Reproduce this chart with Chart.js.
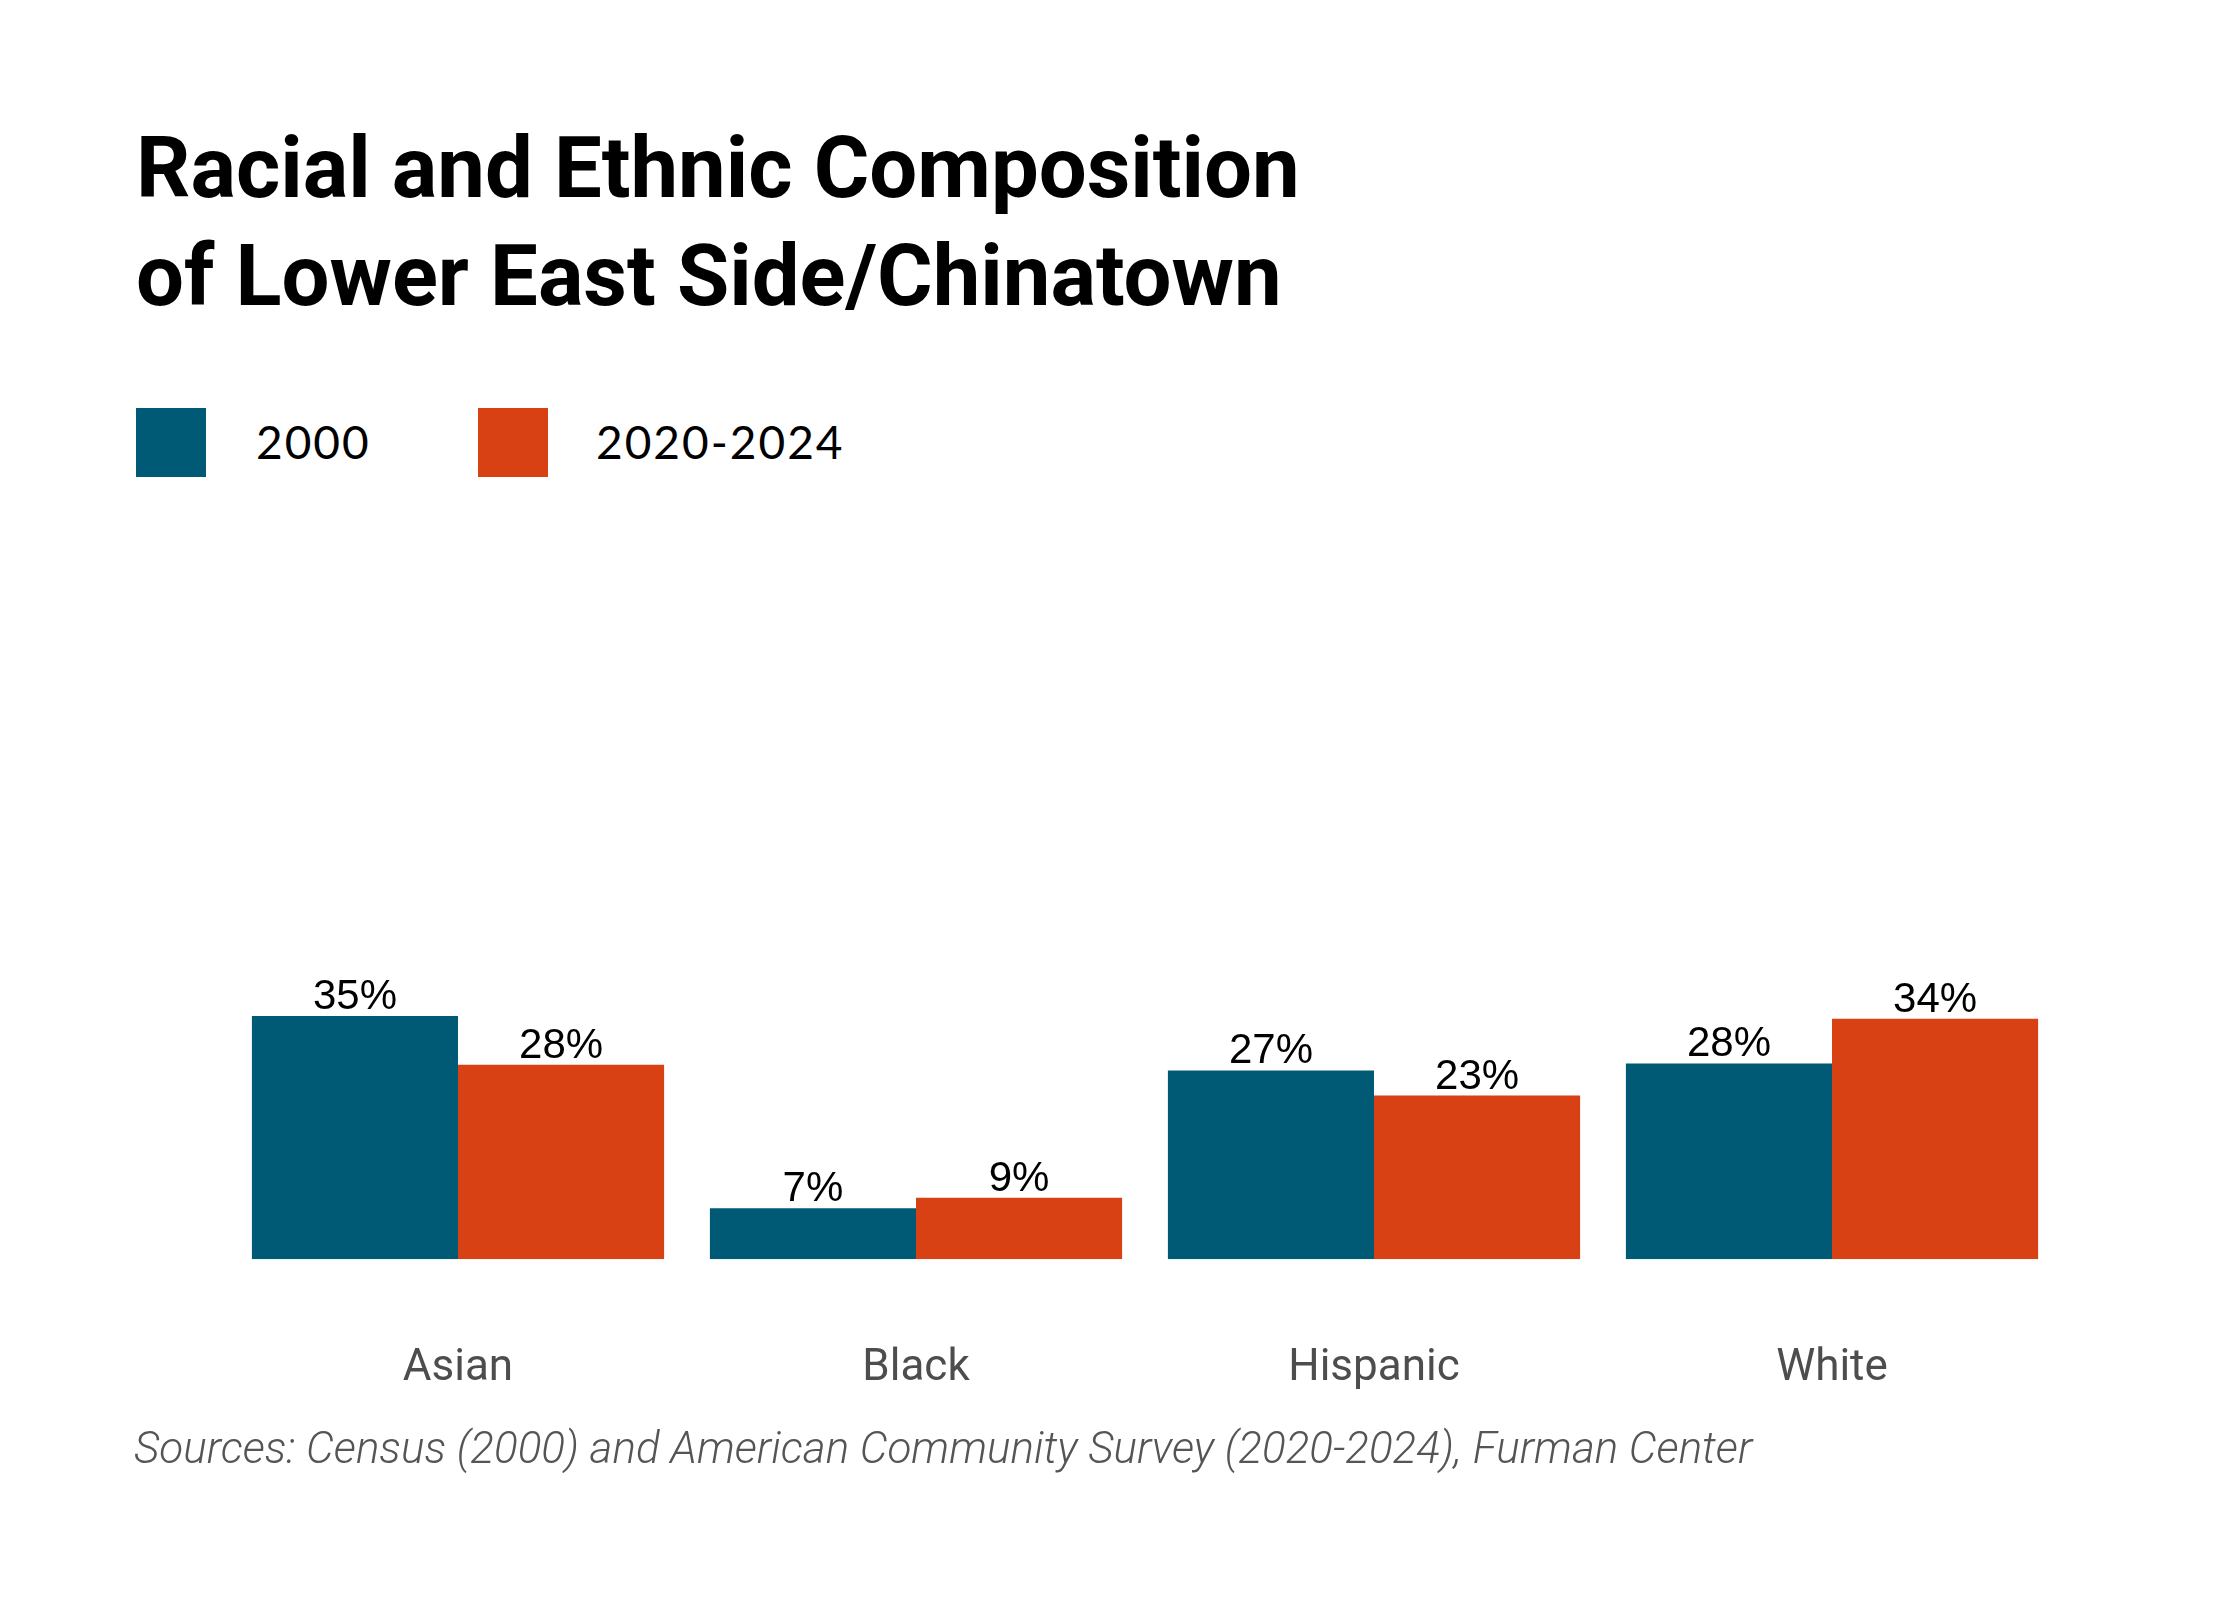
<!DOCTYPE html>
<html>
<head>
<meta charset="utf-8">
<script src="https://cdn.jsdelivr.net/npm/chart.js@4.4.0/dist/chart.umd.min.js"></script>
<style>
  body { margin: 0; background: #fff; }
  #page { position: relative; width: 2240px; height: 1600px; background: #fff; overflow: hidden; }
  #title {
    position: absolute; left: 136px; top: 114px; margin: 0;
    font-family: Roboto, sans-serif; font-weight: 700; font-size: 85px; line-height: 108px;
    color: #000;
  }
  .legend-box { position: absolute; top: 408px; width: 70px; height: 69px; }
  .legend-text {
    position: absolute; top: 414px; font-family: Lato, sans-serif; font-size: 46px;
    letter-spacing: 2px; color: #000; line-height: 56px;
  }
  #sources {
    position: absolute; left: 134px; top: 1426px; font-family: Roboto, sans-serif;
    font-style: italic; font-weight: 300; font-size: 44px; line-height: 44px; color: #555;
  }
  #chartWrap { position: absolute; left: 0; top: 540px; width: 2240px; height: 938px; }
</style>
</head>
<body>
<div id="page">
  <h1 id="title">Racial and Ethnic Composition<br>of Lower East Side/Chinatown</h1>
  <div class="legend-box" id="box0" style="left:136px"></div>
  <div class="legend-text" id="lab0" style="left:256px"></div>
  <div class="legend-box" id="box1" style="left:478px"></div>
  <div class="legend-text" id="lab1" style="left:596px"></div>
  <div id="chartWrap"><canvas id="chart"></canvas></div>
  <div id="sources">Sources: Census (2000) and American Community Survey (2020-2024), Furman Center</div>
</div>
<script>
const categories = ["Asian", "Black", "Hispanic", "White"];
const seriesNames = ["2000", "2020-2024"];
const values2000 = [34.8, 7.3, 27.0, 28.0];
const values2020 = [27.8, 8.8, 23.4, 34.4];
const colors = ["#005A76", "#D84114"];

// legend in html
seriesNames.forEach((name, i) => {
    document.getElementById("box" + i).style.background = colors[i];
    document.getElementById("lab" + i).textContent = name;
});

const valueLabels = {
    id: "valueLabels",
    afterDatasetsDraw(chart) {
        const ctx = chart.ctx;
        ctx.save();
        ctx.font = "42px 'Liberation Sans', Arial, sans-serif";
        ctx.fillStyle = "#000";
        ctx.textAlign = "center";
        ctx.textBaseline = "alphabetic";
        chart.data.datasets.forEach((ds, di) => {
            chart.getDatasetMeta(di).data.forEach((bar, i) => {
                ctx.fillText(Math.round(ds.data[i]) + "%", bar.x, bar.y - 7);
            });
        });
        ctx.restore();
    }
};

const ctx = document.getElementById("chart").getContext("2d");
new Chart(ctx, {
    type: "bar",
    data: {
        labels: categories,
        datasets: [
            { label: seriesNames[0], data: values2000, backgroundColor: colors[0] },
            { label: seriesNames[1], data: values2020, backgroundColor: colors[1] }
        ]
    },
    options: {
        responsive: true,
        maintainAspectRatio: false,
        devicePixelRatio: 1,
        animation: false,
        datasets: { bar: { barPercentage: 1.0, categoryPercentage: 0.9, borderWidth: 0 } },
        layout: { padding: { left: 229, right: 179, top: 20, bottom: 0 } },
        plugins: {
            legend: { display: false },
            title: { display: false },
            tooltip: { enabled: false }
        },
        scales: {
            x: {
                grid: { display: false, drawTicks: false },
                border: { display: false },
                ticks: {
                    padding: 83,
                    color: "#4d4d4d",
                    font: { family: "Roboto, sans-serif", size: 44 }
                }
            },
            y: { display: false, min: 0, max: 100 }
        }
    },
    plugins: [valueLabels]
});
</script>
</body>
</html>
